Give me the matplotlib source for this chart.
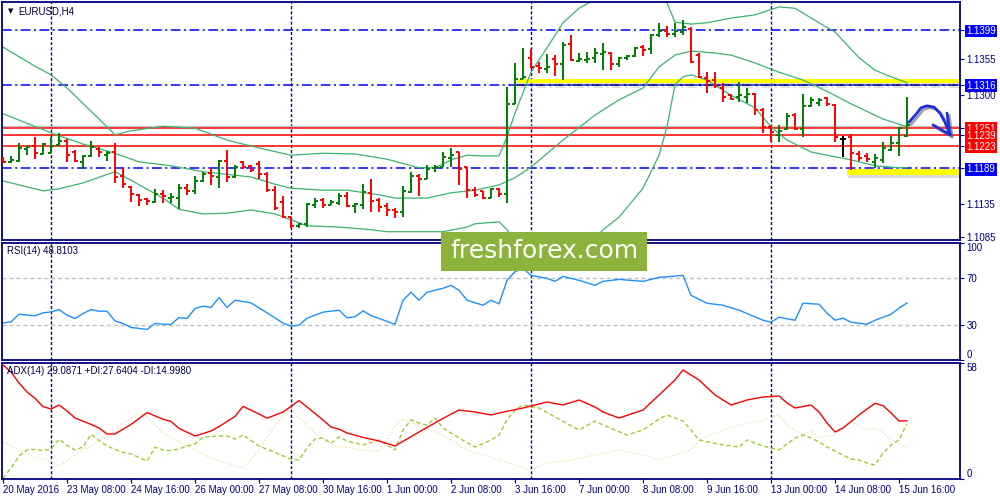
import numpy as np
import matplotlib
matplotlib.use("Agg")
import matplotlib.pyplot as plt
import matplotlib.patheffects as pe
from matplotlib.patches import Rectangle

plt.rcParams['font.family'] = ['Liberation Sans', 'DejaVu Sans']
plt.rcParams['lines.scale_dashes'] = False

# EURUSD H4 bars, 20 May 2016 00:00 .. 15 Jun 2016 20:00
opens = [
    1.1205, 1.1199, 1.1200, 1.1219, 1.1223, 1.1211, 1.1212, 1.1225, 1.1231, 1.1214,
    1.1199, 1.1208, 1.1219, 1.1209, 1.1214, 1.1178, 1.1161, 1.1149, 1.1143, 1.1138,
    1.1150, 1.1144, 1.1144, 1.1159, 1.1155, 1.1170, 1.1182, 1.1176, 1.1200, 1.1176,
    1.1199, 1.1193, 1.1196, 1.1181, 1.1156, 1.1138, 1.1115, 1.1102, 1.1105, 1.1134,
    1.1141, 1.1134, 1.1137, 1.1147, 1.1132, 1.1134, 1.1152, 1.1141, 1.1132, 1.1126,
    1.1123, 1.1153, 1.1178, 1.1173, 1.1190, 1.1191, 1.1205, 1.1214, 1.1191, 1.1156,
    1.1155, 1.1144, 1.1158, 1.1150, 1.1287, 1.1325, 1.1357, 1.1344, 1.1340, 1.1355,
    1.1347, 1.1378, 1.1352, 1.1354, 1.1357, 1.1363, 1.1364, 1.1347, 1.1357, 1.1360,
    1.1373, 1.1370, 1.1391, 1.1397, 1.1393, 1.1396, 1.1400, 1.1361, 1.1326, 1.1323,
    1.1311, 1.1300, 1.1297, 1.1297, 1.1302, 1.1278, 1.1252, 1.1240, 1.1249, 1.1270,
    1.1249, 1.1284, 1.1288, 1.1296, 1.1285, 1.1234, 1.1237, 1.1211, 1.1208, 1.1199,
    1.1202, 1.1217, 1.1228, 1.1238]
highs = [
    1.1206, 1.1208, 1.1228, 1.1223, 1.1237, 1.1228, 1.1237, 1.1243, 1.1234, 1.1217,
    1.1209, 1.1231, 1.1222, 1.1216, 1.1228, 1.1190, 1.1162, 1.1150, 1.1144, 1.1158,
    1.1156, 1.1152, 1.1165, 1.1165, 1.1178, 1.1184, 1.1190, 1.1202, 1.1217, 1.1194,
    1.1200, 1.1194, 1.1200, 1.1184, 1.1162, 1.1147, 1.1115, 1.1106, 1.1137, 1.1144,
    1.1144, 1.1141, 1.1152, 1.1153, 1.1137, 1.1165, 1.1173, 1.1144, 1.1137, 1.1129,
    1.1162, 1.1184, 1.1181, 1.1194, 1.1194, 1.1214, 1.1220, 1.1214, 1.1191, 1.1161,
    1.1155, 1.1159, 1.1159, 1.1312, 1.1349, 1.1372, 1.1370, 1.1350, 1.1363, 1.1361,
    1.1381, 1.1391, 1.1364, 1.1366, 1.1372, 1.1379, 1.1366, 1.1358, 1.1361, 1.1373,
    1.1376, 1.1393, 1.1410, 1.1405, 1.1410, 1.1414, 1.1404, 1.1364, 1.1335, 1.1335,
    1.1318, 1.1302, 1.1320, 1.1311, 1.1303, 1.1281, 1.1255, 1.1255, 1.1273, 1.1273,
    1.1302, 1.1297, 1.1296, 1.1297, 1.1287, 1.1238, 1.1241, 1.1215, 1.1212, 1.1211,
    1.1229, 1.1238, 1.1252, 1.1297]
lows = [
    1.1197, 1.1197, 1.1199, 1.1209, 1.1203, 1.1211, 1.1212, 1.1223, 1.1199, 1.1199,
    1.1188, 1.1206, 1.1206, 1.1200, 1.1167, 1.1159, 1.1138, 1.1132, 1.1134, 1.1137,
    1.1137, 1.1137, 1.1128, 1.1149, 1.1150, 1.1168, 1.1164, 1.1159, 1.1168, 1.1175,
    1.1188, 1.1184, 1.1173, 1.1153, 1.1126, 1.1114, 1.1099, 1.1099, 1.1100, 1.1129,
    1.1129, 1.1134, 1.1134, 1.1131, 1.1121, 1.1128, 1.1123, 1.1123, 1.1117, 1.1114,
    1.1115, 1.1152, 1.1147, 1.1173, 1.1184, 1.1191, 1.1191, 1.1164, 1.1144, 1.1146,
    1.1143, 1.1144, 1.1146, 1.1137, 1.1287, 1.1324, 1.1341, 1.1334, 1.1334, 1.1329,
    1.1323, 1.1352, 1.1350, 1.1349, 1.1349, 1.1338, 1.1338, 1.1343, 1.1354, 1.1358,
    1.1360, 1.1363, 1.1388, 1.1388, 1.1388, 1.1391, 1.1349, 1.1326, 1.1303, 1.1311,
    1.1290, 1.1293, 1.1290, 1.1288, 1.1270, 1.1243, 1.1229, 1.1229, 1.1247, 1.1247,
    1.1237, 1.1282, 1.1284, 1.1284, 1.1229, 1.1206, 1.1187, 1.1200, 1.1199, 1.1190,
    1.1197, 1.1215, 1.1208, 1.1237]
closes = [
    1.1199, 1.1202, 1.1220, 1.1222, 1.1212, 1.1226, 1.1223, 1.1231, 1.1209, 1.1200,
    1.1208, 1.1222, 1.1214, 1.1212, 1.1176, 1.1165, 1.1150, 1.1141, 1.1140, 1.1150,
    1.1147, 1.1146, 1.1159, 1.1155, 1.1170, 1.1181, 1.1178, 1.1200, 1.1176, 1.1191,
    1.1191, 1.1187, 1.1181, 1.1156, 1.1129, 1.1115, 1.1102, 1.1105, 1.1135, 1.1140,
    1.1134, 1.1138, 1.1147, 1.1132, 1.1135, 1.1153, 1.1140, 1.1131, 1.1126, 1.1123,
    1.1155, 1.1178, 1.1173, 1.1188, 1.1191, 1.1206, 1.1209, 1.1188, 1.1156, 1.1149,
    1.1144, 1.1158, 1.1150, 1.1287, 1.1325, 1.1328, 1.1343, 1.1341, 1.1343, 1.1347,
    1.1376, 1.1354, 1.1355, 1.1355, 1.1364, 1.1366, 1.1347, 1.1357, 1.1360, 1.1372,
    1.1369, 1.1391, 1.1397, 1.1393, 1.1397, 1.1404, 1.1350, 1.1327, 1.1322, 1.1314,
    1.1297, 1.1294, 1.1300, 1.1302, 1.1278, 1.1252, 1.1244, 1.1246, 1.1268, 1.1249,
    1.1284, 1.1293, 1.1293, 1.1287, 1.1237, 1.1234, 1.1212, 1.1205, 1.1203, 1.1205,
    1.1220, 1.1228, 1.1250, 1.1255]

# Bollinger bands, read at these bar numbers
bb_up_bar = [0, 4, 6, 8, 12, 14, 16, 20, 24, 28, 32, 36, 40, 44, 48, 52, 54, 56, 58, 60,
             62, 63, 64, 66, 68, 70, 72, 74, 76, 80, 82, 83, 84, 86, 88, 91, 94, 97, 99, 102,
             104, 107, 109, 111, 113]
bb_up = [1.1373, 1.1344, 1.1331, 1.1311, 1.1264, 1.1240, 1.1246, 1.1253, 1.1250, 1.1232,
         1.1220, 1.1209, 1.1212, 1.1211, 1.1203, 1.1190, 1.1190, 1.1202, 1.1209, 1.1208,
         1.1208, 1.1237, 1.1273, 1.1335, 1.1372, 1.1410, 1.1432, 1.1445, 1.1457, 1.1460,
         1.1449, 1.1440, 1.1411, 1.1408, 1.1410, 1.1417, 1.1422, 1.1434, 1.1432, 1.1410,
         1.1396, 1.1357, 1.1338, 1.1328, 1.1319]
bb_mid_bar = [0, 6, 10, 14, 17, 21, 25, 31, 34, 36, 40, 43, 47, 49, 53, 56, 59, 62, 64, 66,
              70, 74, 77, 80, 82, 84, 86, 89, 91, 94, 97, 100, 103, 106, 110, 113]
bb_mid = [1.1272, 1.1243, 1.1226, 1.1212, 1.1199, 1.1193, 1.1184, 1.1176, 1.1165, 1.1159,
          1.1156, 1.1156, 1.1149, 1.1144, 1.1144, 1.1152, 1.1156, 1.1164, 1.1175, 1.1191,
          1.1232, 1.1270, 1.1293, 1.1311, 1.1343, 1.1361, 1.1367, 1.1364, 1.1361, 1.1349,
          1.1335, 1.1323, 1.1306, 1.1287, 1.1264, 1.1252]
bb_low_bar = [0, 5, 7, 10, 14, 16, 20, 22, 25, 28, 31, 34, 36, 38, 42, 46, 48, 55, 58, 59,
              62, 63, 64, 66, 70, 73, 75, 77, 80, 82, 83, 84, 85, 86, 88, 91, 94, 96, 98, 101,
              103, 106, 109, 112, 113]
bb_low = [1.1170, 1.1155, 1.1158, 1.1167, 1.1184, 1.1171, 1.1144, 1.1127, 1.1120, 1.1121,
          1.1126, 1.1120, 1.1111, 1.1102, 1.1100, 1.1096, 1.1093, 1.1093, 1.1100, 1.1105,
          1.1108, 1.1096, 1.1077, 1.1058, 1.1047, 1.1068, 1.1096, 1.1115, 1.1159, 1.1209,
          1.1252, 1.1316, 1.1328, 1.1331, 1.1323, 1.1300, 1.1281, 1.1252, 1.1232, 1.1214,
          1.1209, 1.1202, 1.1193, 1.1190, 1.1190]

# RSI(14)
rsi_bar = [0, 1, 2, 4, 5, 6, 7, 8, 9, 10, 11, 12, 13, 14, 15, 16, 17, 18, 19, 20,
           21, 22, 23, 24, 25, 26, 27, 28, 29, 30, 31, 33, 34, 35, 36, 37, 38, 40, 42, 43,
           44, 45, 46, 47, 48, 49, 50, 51, 52, 53, 55, 56, 57, 58, 60, 61, 62, 63, 64, 65,
           66, 68, 69, 70, 72, 74, 75, 77, 80, 82, 85, 86, 88, 90, 92, 95, 96, 97, 99, 100,
           102, 103, 104, 105, 106, 108, 109, 111, 112, 113]
rsi = [31.7, 32.6, 39.1, 37.8, 40.3, 41.1, 43.1, 38.3, 35.5, 39.7,
       43.1, 41.7, 41.7, 33.4, 31.2, 27.8, 27.0, 26.1, 31.2, 30.6,
       30.4, 36.3, 35.5, 44.0, 46.0, 44.9, 53.4, 44.9, 51.1, 50.0,
       48.8, 40.3, 36.0, 31.5, 28.9, 29.8, 35.7, 40.9, 42.6, 36.0,
       37.0, 42.0, 38.0, 35.5, 33.0, 30.6, 51.1, 57.9, 51.1, 57.9,
       61.3, 63.8, 59.6, 51.1, 46.8, 51.1, 48.0, 68.1, 75.5, 78.3,
       72.3, 69.8, 67.2, 71.5, 68.1, 63.8, 67.2, 68.9, 67.2, 70.6,
       72.3, 55.3, 48.5, 46.8, 42.6, 34.0, 32.3, 36.6, 34.0, 48.5,
       47.7, 40.0, 34.0, 35.7, 32.3, 30.6, 34.0, 39.1, 44.3, 48.8]

# ADX(14), +DI, -DI
adx_bar = [0, 1, 2, 3, 4, 5, 6, 7, 8, 9, 11, 12, 13, 14, 16, 18, 20, 21, 22, 24,
           26, 27, 29, 30, 32, 33, 35, 36, 37, 38, 40, 41, 42, 43, 45, 47, 49, 52, 55, 57,
           59, 61, 62, 65, 68, 70, 72, 74, 75, 77, 80, 82, 84, 85, 87, 89, 91, 93, 95, 97,
           98, 99, 101, 102, 103, 104, 105, 106, 107, 108, 109, 110, 111, 112, 113]
adx = [57.0, 53.5, 48.0, 43.5, 40.3, 36.2, 35.0, 37.0, 34.0, 30.5,
       27.3, 25.5, 22.5, 22.5, 27.3, 33.2, 29.9, 28.8, 25.3, 21.5,
       24.0, 26.2, 31.3, 36.3, 32.5, 30.4, 33.5, 36.3, 39.2, 36.0,
       29.5, 26.0, 24.9, 23.0, 20.8, 19.0, 16.5, 23.5, 30.3, 34.5,
       33.5, 32.0, 33.0, 35.5, 38.5, 37.0, 39.5, 36.0, 33.5, 30.5,
       34.5, 42.0, 49.5, 54.5, 49.5, 42.0, 37.0, 39.5, 41.0, 41.5,
       38.0, 35.5, 37.0, 33.5, 28.0, 23.5, 25.5, 28.7, 32.0, 35.0,
       37.8, 36.7, 33.0, 29.0, 29.1]
pdi_bar = [0, 1, 2, 3, 4, 5, 6, 7, 8, 9, 10, 11, 12, 13, 14, 15, 16, 17, 18, 19,
           20, 21, 22, 23, 24, 25, 27, 28, 29, 30, 32, 34, 36, 37, 38, 39, 40, 41, 42, 43,
           45, 47, 48, 49, 50, 51, 52, 53, 54, 55, 57, 59, 61, 62, 63, 64, 65, 67, 69, 72,
           74, 75, 78, 80, 82, 83, 85, 86, 87, 90, 92, 93, 95, 97, 98, 99, 100, 101, 102, 103,
           105, 106, 107, 108, 109, 110, 111, 112, 113]
pdi = [0.4, 5.5, 11.5, 14.5, 14.8, 14.2, 14.9, 19.9, 16.8, 14.5,
       16.0, 22.3, 19.2, 16.5, 14.8, 13.3, 12.5, 10.8, 9.0, 15.9,
       14.5, 14.2, 15.0, 16.5, 17.5, 20.9, 21.5, 21.5, 19.9, 22.0,
       16.5, 13.3, 9.9, 9.5, 15.5, 20.0, 20.5, 17.9, 21.0, 19.0,
       17.0, 19.5, 17.0, 14.5, 24.5, 29.5, 28.0, 27.0, 30.5, 25.5,
       20.5, 16.0, 19.5, 22.0, 29.5, 34.5, 37.0, 35.5, 31.0, 24.5,
       29.0, 27.0, 22.0, 24.5, 30.0, 32.0, 29.0, 24.5, 19.5, 17.0,
       16.0, 19.5, 16.5, 14.5, 17.5, 20.5, 22.0, 20.5, 18.5, 16.0,
       12.0, 10.0, 9.5, 8.0, 7.0, 13.0, 17.0, 19.5, 27.6]
mdi_bar = [0, 2, 4, 6, 7, 9, 10, 11, 12, 13, 14, 15, 16, 17, 18, 20, 22, 24, 26, 28,
           30, 32, 34, 36, 37, 39, 41, 42, 43, 45, 47, 48, 49, 50, 52, 55, 58, 62, 66, 68,
           71, 74, 77, 80, 82, 86, 87, 90, 92, 95, 97, 98, 100, 101, 102, 104, 106, 107, 108, 109,
           110, 111, 112, 113]
mdi = [18.7, 14.5, 10.8, 9.0, 6.5, 12.0, 14.9, 16.2, 19.5, 21.3,
       23.0, 28.0, 30.5, 32.8, 30.9, 23.0, 19.0, 14.3, 10.5, 7.9,
       5.4, 14.5, 27.0, 35.4, 30.5, 23.0, 17.5, 15.9, 15.8, 14.3,
       14.0, 19.5, 27.0, 29.5, 27.0, 22.0, 14.5, 9.5, 4.5, 8.0,
       9.5, 12.0, 14.5, 12.0, 9.5, 14.5, 19.5, 24.5, 27.0, 29.5,
       32.0, 27.0, 22.0, 24.5, 20.5, 22.0, 29.5, 26.5, 24.5, 25.5,
       23.5, 19.5, 18.0, 15.0]

date_bars = [0, 8, 16, 24, 32, 40, 48, 56, 64, 72, 80, 88, 96, 104, 112]
date_labels = ["20 May 2016", "23 May 08:00", "24 May 16:00", "26 May 00:00", "27 May 08:00",
               "30 May 16:00", "1 Jun 00:00", "2 Jun 08:00", "3 Jun 16:00", "7 Jun 00:00",
               "8 Jun 08:00", "9 Jun 16:00", "13 Jun 00:00", "14 Jun 08:00", "15 Jun 16:00"]
week_bars = [6, 36, 66, 96]

price_ticks = [1.1399, 1.1355, 1.1316, 1.1300, 1.1251, 1.1239, 1.1223, 1.1189, 1.1135, 1.1085]
blue_levels = [1.1399, 1.1316, 1.1189]
red_levels = [1.1251, 1.1239, 1.1223]
bid_level = 1.1254

# hand drawn objects: yellow zones (start bar, low, high) and the blue arrow
zone_top = (64.25, 1.1318, 1.1324)
zone_bottom = (105.5, 1.1179, 1.11875)
arrow_bar = [113.25, 114.25, 114.75, 115.5, 116.375, 117.125, 117.75, 118.375]
arrow_price = [1.1259, 1.1273, 1.1281, 1.1284, 1.1282, 1.1273, 1.1259, 1.1240]

NAVY = '#000080'
xlim = (-0.125, 119.625)

fig = plt.figure(figsize=(10, 5), dpi=100)
fig.patch.set_facecolor('white')
ax = fig.add_axes([0.002, 0.52, 0.958, 0.476])
ax2 = fig.add_axes([0.002, 0.28, 0.958, 0.234])
ax3 = fig.add_axes([0.002, 0.042, 0.958, 0.232])

for a in (ax, ax2, ax3):
    a.set_xlim(*xlim)
    for s in a.spines.values():
        s.set_color(NAVY)
        s.set_linewidth(1.3)
    a.yaxis.tick_right()
    a.tick_params(axis='y', direction='out', length=3, width=0.8, colors=NAVY,
                  labelsize=7, pad=1.5)
    for b in week_bars:
        a.axvline(b, color=NAVY, lw=1, ls=(0, (2.2, 1.5)), zorder=1)

# ---- main chart ----
n = len(closes)
idx = np.arange(n)
o, h, l, c = (np.array(v) for v in (opens, highs, lows, closes))
cols = np.where(c > o, '#008000', np.where(c < o, '#ff0000', '#000000'))

for lv in blue_levels:
    ax.axhline(lv, color='#0000ff', lw=1.1, ls=(0, (7, 2.5, 1.5, 2.5)), zorder=1.2)
for lv in red_levels:
    ax.axhline(lv, color='#ff0000', lw=1.1, zorder=1.2)
ax.axhline(bid_level, color='#c8c8c8', lw=1, zorder=1.1)

# yellow zones with a soft drop shadow
shadow = [pe.SimplePatchShadow(offset=(1, -2), shadow_rgbFace='#909090', alpha=0.3), pe.Normal()]
for z in (zone_top, zone_bottom):
    ax.add_patch(Rectangle((z[0], z[1]), xlim[1] - z[0], z[2] - z[1], fc='#ffff00',
                           ec='none', zorder=1.4, path_effects=shadow))
ax.plot([zone_top[0], xlim[1]], [1.1316, 1.1316], color=NAVY, lw=1.1,
        ls=(0, (7, 2.5, 1.5, 2.5)), zorder=1.45,
        path_effects=[pe.SimpleLineShadow(offset=(1, -1.5), shadow_color='gray', alpha=0.3),
                      pe.Normal()])

ax.plot(bb_up_bar, bb_up, color='#3cb371', lw=0.9, zorder=2)
ax.plot(bb_mid_bar, bb_mid, color='#3cb371', lw=0.9, zorder=2)
ax.plot(bb_low_bar, bb_low, color='#3cb371', lw=0.9, zorder=2)

ax.vlines(idx, l, h, colors=cols, lw=1.4, zorder=3)
ax.hlines(o, idx - 0.4, idx, colors=cols, lw=1.4, zorder=3)
ax.hlines(c, idx, idx + 0.4, colors=cols, lw=1.4, zorder=3)

arrow_fx = [pe.SimpleLineShadow(offset=(1.5, -1.5), shadow_color='#606080', alpha=0.6), pe.Normal()]
ax.plot(arrow_bar, arrow_price, color='#1f2fd6', lw=2, solid_capstyle='round', zorder=4,
        path_effects=arrow_fx)
ax.plot([116.25, arrow_bar[-1], 118.0], [1.1255, arrow_price[-1], 1.1273], color='#1f2fd6',
        lw=2, solid_capstyle='round', solid_joinstyle='round', zorder=4, path_effects=arrow_fx)

ax.set_ylim(1.10804, 1.14415)
ax.set_yticks(price_ticks, labels=['%.4f' % p for p in price_ticks])
for p, lbl in zip(price_ticks, ax.get_yticklabels()):
    if p in blue_levels or p in red_levels:
        lbl.set_color('white')
        lbl.set_bbox(dict(boxstyle='square,pad=0.15',
                          fc='#0000ff' if p in blue_levels else '#ff0000', ec='none'))
ax.tick_params(axis='x', bottom=False, labelbottom=False)

# ---- RSI ----
for lv in (70, 30):
    ax2.axhline(lv, color='#c0c0c0', lw=1, ls=(0, (3, 2)), zorder=1)
ax2.plot(rsi_bar, rsi, color='#1e90ff', lw=1, zorder=2)
ax2.set_ylim(0, 100)
ax2.set_yticks([0, 30, 70, 100], labels=['0', '30', '70', '100'])
ax2.tick_params(axis='x', bottom=False, labelbottom=False)
tk = ax2.yaxis.get_major_ticks()
tk[0].label2.set_va('bottom')
tk[3].label2.set_va('top')

# ---- ADX ----
ax3.plot(mdi_bar, mdi, color='#f5deb3', lw=1, ls=(0, (1, 1.5)), zorder=2)
ax3.plot(pdi_bar, pdi, color='#9acd32', lw=1, ls=(0, (3, 2)), zorder=2)
ax3.plot(adx_bar, adx, color='#ff0000', lw=1, zorder=3)
ax3.set_ylim(0, 58)
ax3.set_yticks([0, 58], labels=['0', '58'])
tk = ax3.yaxis.get_major_ticks()
tk[0].label2.set_va('bottom')
tk[1].label2.set_va('top')
ax3.set_xticks(date_bars, labels=date_labels)
ax3.tick_params(axis='x', direction='out', length=3, width=0.8, colors=NAVY,
                labelsize=7, pad=1)
for lbl in ax3.get_xticklabels():
    lbl.set_ha('left')

# ---- texts ----
fig.text(0.008, 0.978, '\u25bc', fontsize=5, color='#000040', va='center',
         family=['DejaVu Sans'])
fig.text(0.018, 0.978, 'EURUSD,H4', fontsize=7, color='#000040', va='center')
fig.text(0.007, 0.497, 'RSI(14) 48.8103', fontsize=7, color='#000050', va='center')
fig.text(0.007, 0.257, 'ADX(14) 29.0871 +DI:27.6404 -DI:14.9980', fontsize=7,
         color='#000050', va='center')

# watermark
fig.patches.append(Rectangle((0.441, 0.458), 0.206, 0.078, transform=fig.transFigure,
                             fc='#8cb43c', ec='none', zorder=5))
fig.text(0.544, 0.497, 'freshforex.com', fontsize=18, color='white', ha='center',
         va='center', family=['DejaVu Sans'], zorder=6)

fig.savefig('out.png', dpi=100)
